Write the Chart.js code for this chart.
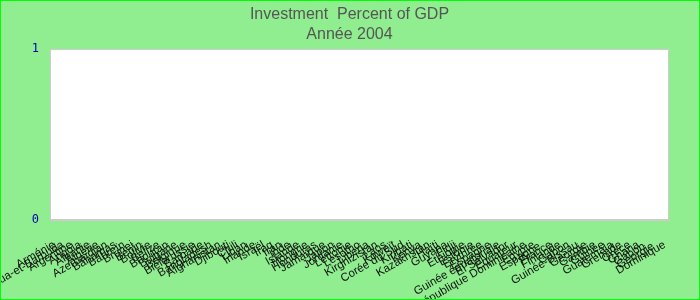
<!DOCTYPE html>
<html>
<head>
<meta charset="utf-8">
<script src="https://cdn.jsdelivr.net/npm/chart.js@4"></script>
<style>
html,body{margin:0;padding:0;background:#90ee90;}
#wrap{width:700px;height:300px;box-sizing:border-box;border:1px solid #00ff00;background:#90ee90;position:relative;}
canvas{display:block;}
</style>
</head>
<body>
<div id="wrap"><canvas id="c" width="698" height="298"></canvas></div>
<script>
const titleLines = ['Investment  Percent of GDP', 'Année 2004'];
const countries = [
 'Arménie','Antigua-et-Barbuda','Argentine','Angola','Albanie','Algérie','Azerbaïdjan','Bahamas','Bahreïn',
 'Brunei','Bénin','Bolivie','Belize','Bhoutan','Bulgarie','Belgique','Biélorussie','Barbade','Bangladesh',
 'Afghanistan','Djibouti','Chili','Liban','Irlande','Israël','Iraq','Iran','Inde','Islande','Hongrie','Honduras',
 'Jamaïque','Japon','Jordanie','Lettonie','Lesotho','Liberia','Kirghizistan','Laos','Koweït','Corée du Sud',
 'Kiribati','Kenya','Kazakhstan','Haïti','Guyana','Fidji','Éthiopie','Estonie','Érythrée','Espagne',
 'Guinée équatoriale','El Salvador','Équateur','République Dominicaine','Égypte','Espagne ','France',
 'Finlande','Gabon','Guinée-Bissau','Géorgie','Gambie','Guinée','Guatemala','Grenade','Grèce','Ghana',
 'Gabon ','Géorgie ','Dominique'
];
const investment = countries.map(() => null);
const yTicks = [0, 1];

new Chart(document.getElementById('c'), {
  type: 'bar',
  data: { labels: countries, datasets: [{ label: 'Investment', data: investment, backgroundColor: '#3366cc' }] },
  options: {
    responsive: false,
    animation: false,
    layout: { padding: { left: 15, right: 16, top: 0, bottom: 0 } },
    plugins: {
      legend: { display: false },
      tooltip: { enabled: false },
      title: { display: true, text: titleLines, color: '#555555',
        font: { family: 'Liberation Sans, Arial', size: 16, weight: 'normal', lineHeight: 1.25 },
        padding: { top: 4, bottom: 4 } }
    },
    scales: {
      x: {
        grid: { display: false, drawTicks: false },
        border: { display: true, color: '#cccccc' },
        afterFit: (s) => { s.height = 79; s.paddingLeft = 0; s.paddingRight = 0; },
        ticks: { autoSkip: false, maxRotation: 30, minRotation: 30, color: '#111111', padding: 18,
          font: { family: 'Liberation Sans, Arial', size: 11.5 } }
      },
      y: {
        min: yTicks[0], max: yTicks[yTicks.length - 1],
        grid: { display: false, drawTicks: false },
        border: { display: true, color: '#cccccc' },
        afterBuildTicks: (s) => { s.ticks = yTicks.map(v => ({ value: v })); },
        afterFit: (s) => { s.width = 34; },
        ticks: { color: '#0000b0', padding: 11, font: { family: 'DejaVu Sans Mono, monospace', size: 12 } }
      },
      yRight: {
        type: 'linear', position: 'right', display: true,
        min: yTicks[0], max: yTicks[yTicks.length - 1],
        grid: { display: false, drawTicks: false },
        border: { display: false },
        ticks: { display: false },
        afterFit: (s) => { s.width = 14; }
      }
    }
  },
  plugins: [{
    id: 'bg',
    beforeDraw(chart) {
      const { ctx, chartArea: a } = chart;
      ctx.save();
      ctx.fillStyle = '#ffffff';
      ctx.fillRect(a.left, a.top, a.right - a.left, a.bottom - a.top);
      ctx.strokeStyle = '#cccccc';
      ctx.lineWidth = 1;
      ctx.strokeRect(a.left + 0.5, a.top + 0.5, a.right - a.left - 1, a.bottom - a.top - 1);
      ctx.restore();
    }
  }]
});
</script>
</body>
</html>
